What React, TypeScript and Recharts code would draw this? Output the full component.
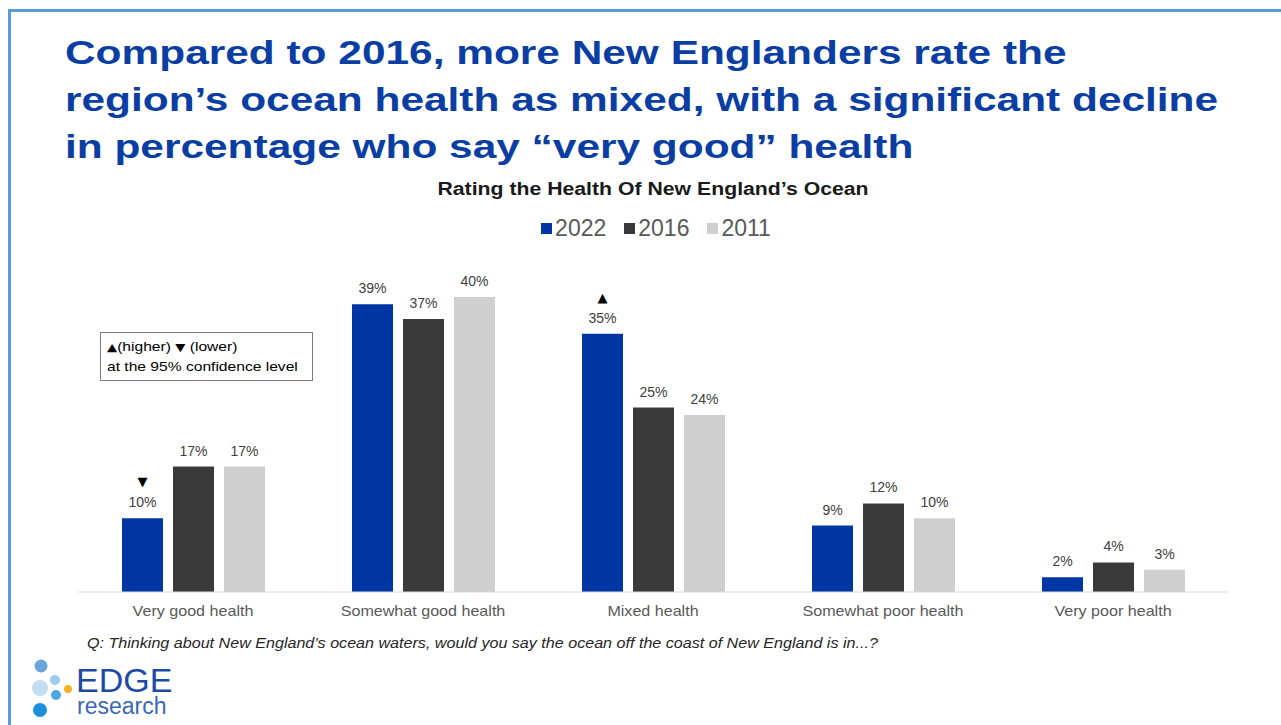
import { BarChart, Bar, XAxis, YAxis, LabelList } from "recharts";

const categories = ["Very good health", "Somewhat good health", "Mixed health", "Somewhat poor health", "Very poor health"];
const values2022 = [10, 39, 35, 9, 2];
const values2016 = [17, 37, 25, 12, 4];
const values2011 = [17, 40, 24, 10, 3];
// significance vs 2016: "up" / "down" / ""
const sig2022 = ["down", "", "up", "", ""];

const seriesNames = ["2022", "2016", "2011"];
const colors = ["#0036a3", "#3a3a3a", "#d0cfcf"];

const data = categories.map((name, i) => ({
  name,
  y2022: values2022[i],
  y2016: values2016[i],
  y2011: values2011[i],
}));

const font = "'Liberation Sans', Arial, sans-serif";
const stretch = "scale(1.18, 1)";

function ValueLabel(props: any) {
  const { x, y, width, value } = props;
  return (
    <text x={x + width / 2} y={y - 11} textAnchor="middle" fontSize={14} fill="#404040" fontFamily={font}>
      {value}%
    </text>
  );
}

function SigLabel(props: any) {
  const { x, y, width, value, index } = props;
  const mark = sig2022[index];
  return (
    <g>
      <text x={x + width / 2} y={y - 11} textAnchor="middle" fontSize={14} fill="#404040" fontFamily={font}>
        {value}%
      </text>
      {mark && (
        <text x={x + width / 2} y={y - 32} textAnchor="middle" fontSize={13} fill="#000" fontFamily="'DejaVu Sans', sans-serif">
          {mark === "up" ? "▲" : "▼"}
        </text>
      )}
    </g>
  );
}

function CatTick(props: any) {
  const { x, y, payload } = props;
  return (
    <text transform={`translate(${x}, ${y + 16}) scale(1.15, 1)`} textAnchor="middle" fontSize={14} fill="#595959" fontFamily={font}>
      {payload.value}
    </text>
  );
}

export default function App() {
  return (
    <div style={{ position: "absolute", left: 0, top: 0, width: 1281, height: 725, background: "#fff", overflow: "hidden", fontFamily: font }}>
      <div style={{ position: "absolute", left: 8, top: 9, width: 1300, height: 760, borderTop: "3px solid #5b9bd5", borderLeft: "3px solid #5b9bd5" }} />
      <div style={{ position: "absolute", left: 65, top: 29, fontSize: 33, lineHeight: "47px", fontWeight: "bold", color: "#0a3ea3", whiteSpace: "nowrap", transform: "scale(1.285, 1)", transformOrigin: "0 0" }}>
        Compared to 2016, more New Englanders rate the
        <br />
        region’s ocean health as mixed, with a significant decline
        <br />
        in percentage who say “very good” health
      </div>
      <div style={{ position: "absolute", left: 0, width: 1306, top: 179, textAlign: "center", fontSize: 18, fontWeight: "bold", color: "#1a1a1a", transform: stretch }}>
        Rating the Health Of New England’s Ocean
      </div>
      <div style={{ position: "absolute", left: 0, width: 1312, top: 215, display: "flex", justifyContent: "center", gap: 18, fontSize: 23, color: "#595959" }}>
        {seriesNames.map((s, i) => (
          <div key={s} style={{ display: "flex", alignItems: "center" }}>
            <span style={{ display: "inline-block", width: 11, height: 11, background: colors[i], marginRight: 3 }} />
            <span>{s}</span>
          </div>
        ))}
      </div>

      <div style={{ position: "absolute", left: 0, top: 0 }}>
        <BarChart width={1281} height={725} data={data} margin={{ top: 260, right: 53, left: 78, bottom: 103 }} barSize={41} barGap={10}>
          <XAxis dataKey="name" height={30} tickLine={false} axisLine={{ stroke: "#d9d9d9" }} tick={<CatTick />} interval={0} />
          <YAxis hide domain={[0, 45]} />
          <Bar dataKey="y2022" fill={colors[0]} isAnimationActive={false}>
            <LabelList dataKey="y2022" content={SigLabel} />
          </Bar>
          <Bar dataKey="y2016" fill={colors[1]} isAnimationActive={false}>
            <LabelList dataKey="y2016" content={ValueLabel} />
          </Bar>
          <Bar dataKey="y2011" fill={colors[2]} isAnimationActive={false}>
            <LabelList dataKey="y2011" content={ValueLabel} />
          </Bar>
        </BarChart>
      </div>

      <div style={{ position: "absolute", left: 100, top: 332, width: 213, height: 49, border: "1px solid #7f7f7f", background: "#fff", boxSizing: "border-box", overflow: "hidden" }}>
        <div style={{ fontSize: 13, lineHeight: "19px", color: "#000", padding: "4px 0 0 5px", whiteSpace: "nowrap", transform: "scale(1.2, 1)", transformOrigin: "0 0" }}>
          <span style={{ fontFamily: "'DejaVu Sans', sans-serif", fontSize: 11 }}>▲</span>(higher) <span style={{ fontFamily: "'DejaVu Sans', sans-serif", fontSize: 11 }}>▼</span> (lower)
          <br />
          at the 95% confidence level
        </div>
      </div>

      <div style={{ position: "absolute", left: 87, top: 635, fontSize: 14, fontStyle: "italic", color: "#262626", whiteSpace: "nowrap", transform: "scale(1.15, 1)", transformOrigin: "0 0" }}>
        Q: Thinking about New England’s ocean waters, would you say the ocean off the coast of New England is in...?
      </div>

      <svg style={{ position: "absolute", left: 0, top: 650 }} width={80} height={75}>
        <circle cx={41} cy={16} r={6.5} fill="#6aa6dd" />
        <circle cx={40} cy={38} r={8} fill="#c3ddf0" />
        <circle cx={55} cy={30} r={5} fill="#9ccbec" />
        <circle cx={56} cy={45} r={5} fill="#4aa6e0" />
        <circle cx={68} cy={39} r={4} fill="#f4b224" />
        <circle cx={40} cy={60} r={7} fill="#1e8fdb" />
      </svg>
      <div style={{ position: "absolute", left: 76, top: 667, fontSize: 34, lineHeight: "26px", color: "#1d4aa6" }}>EDGE</div>
      <div style={{ position: "absolute", left: 77, top: 697, fontSize: 23, lineHeight: "18px", color: "#3a68b3" }}>research</div>
    </div>
  );
}
